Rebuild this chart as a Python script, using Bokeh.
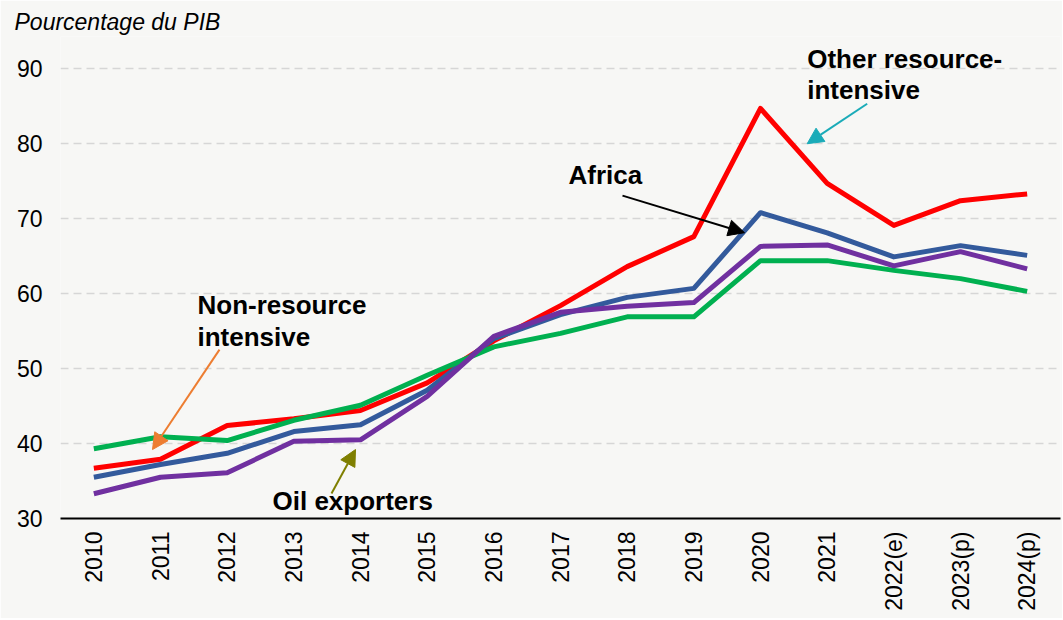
import math
from bokeh.plotting import figure
from bokeh.models import FactorRange, Range1d, FixedTicker, Label, Arrow, NormalHead
from bokeh.embed import file_html
from bokeh.resources import INLINE

years = ["2010", "2011", "2012", "2013", "2014", "2015", "2016", "2017", "2018",
         "2019", "2020", "2021", "2022(e)", "2023(p)", "2024(p)"]
other_resource = [36.7, 37.9, 42.4, 43.3, 44.4, 48.1, 53.7, 58.4, 63.6, 67.6, 84.7, 74.7, 69.1, 72.4, 73.3]
africa = [35.5, 37.2, 38.7, 41.6, 42.5, 47.1, 54.0, 57.2, 59.5, 60.7, 70.8, 68.1, 64.9, 66.4, 65.1]
oil_exporters = [33.3, 35.5, 36.1, 40.3, 40.5, 46.3, 54.3, 57.5, 58.3, 58.8, 66.3, 66.5, 63.7, 65.6, 63.3]
non_resource = [39.3, 40.9, 40.4, 43.1, 45.1, 49.1, 52.9, 54.7, 56.9, 56.9, 64.4, 64.4, 63.1, 62.0, 60.3]
y_ticks = [30, 40, 50, 60, 70, 80, 90]

BG = "#F7F7F5"
Y_TOP = 94.3
FONT = "Liberation Sans"

p = figure(x_range=FactorRange(*years), y_range=Range1d(30, Y_TOP),
           frame_width=1000, frame_height=482,
           min_border_left=60, min_border_right=2, min_border_top=36, min_border_bottom=100,
           output_backend="svg", toolbar_location=None)
p.background_fill_color = BG
p.border_fill_color = BG
p.outline_line_color = None

p.title.text = "Pourcentage du PIB"
p.title.align = "left"
p.title.offset = -46
p.title.standoff = 3
p.title.text_font = FONT
p.title.text_font_size = "23px"
p.title.text_font_style = "italic"
p.title.text_color = "#000000"

p.xgrid.grid_line_color = None
p.ygrid.ticker = FixedTicker(ticks=y_ticks)
p.ygrid.grid_line_color = "#D6D6D6"
p.ygrid.grid_line_width = 1.5
p.ygrid.grid_line_dash = "8 5"

p.yaxis.ticker = FixedTicker(ticks=y_ticks)
p.yaxis.axis_line_color = None
p.yaxis.major_tick_line_color = None
p.yaxis.minor_tick_line_color = None
p.yaxis.major_tick_out = 0
p.yaxis.major_label_standoff = 18
p.yaxis.major_label_text_font = FONT
p.yaxis.major_label_text_font_size = "23px"
p.yaxis.major_label_text_color = "#000000"

p.xaxis.axis_line_color = "#000000"
p.xaxis.axis_line_width = 2
p.xaxis.major_tick_line_color = None
p.xaxis.minor_tick_line_color = None
p.xaxis.major_tick_out = 0
p.xaxis.major_label_standoff = 13
p.xaxis.major_label_orientation = math.pi / 2
p.xaxis.major_label_text_font = FONT
p.xaxis.major_label_text_font_size = "23px"
p.xaxis.major_label_text_color = "#000000"

series = [
    (other_resource, "#FF0000"),
    (africa, "#335A9C"),
    (non_resource, "#00B050"),
    (oil_exporters, "#7030A0"),
]
for vals, col in series:
    p.line(x=years, y=vals, line_color=col, line_width=5, line_join="round")

def lab(x, y, t):
    p.add_layout(Label(x=x, y=y, y_offset=9, text=t, text_font=FONT, text_font_size="26px",
                       text_font_style="bold", text_color="#000000",
                       text_baseline="alphabetic", text_align="left"))

lab(11.2, 90.13, "Other resource-")
lab(11.2, 86.0, "intensive")
lab(7.62, 74.6, "Africa")
lab(2.055, 57.33, "Non-resource")
lab(2.055, 53.07, "intensive")
lab(3.18, 31.07, "Oil exporters")

def arr(xs, ys, xe, ye, col):
    p.add_layout(Arrow(end=NormalHead(size=16, fill_color=col, line_color=col),
                       x_start=xs, y_start=ys, x_end=xe, y_end=ye,
                       line_color=col, line_width=2))

arr(12.1, 85.33, 11.2, 80.0, "#1AABB8")
arr(8.43, 73.07, 10.26, 68.13, "#000000")
arr(2.385, 52.53, 1.38, 39.2, "#ED7D31")
arr(4.065, 33.33, 4.425, 39.2, "#7F7F00")

open("out.html", "w").write(file_html(p, INLINE))
